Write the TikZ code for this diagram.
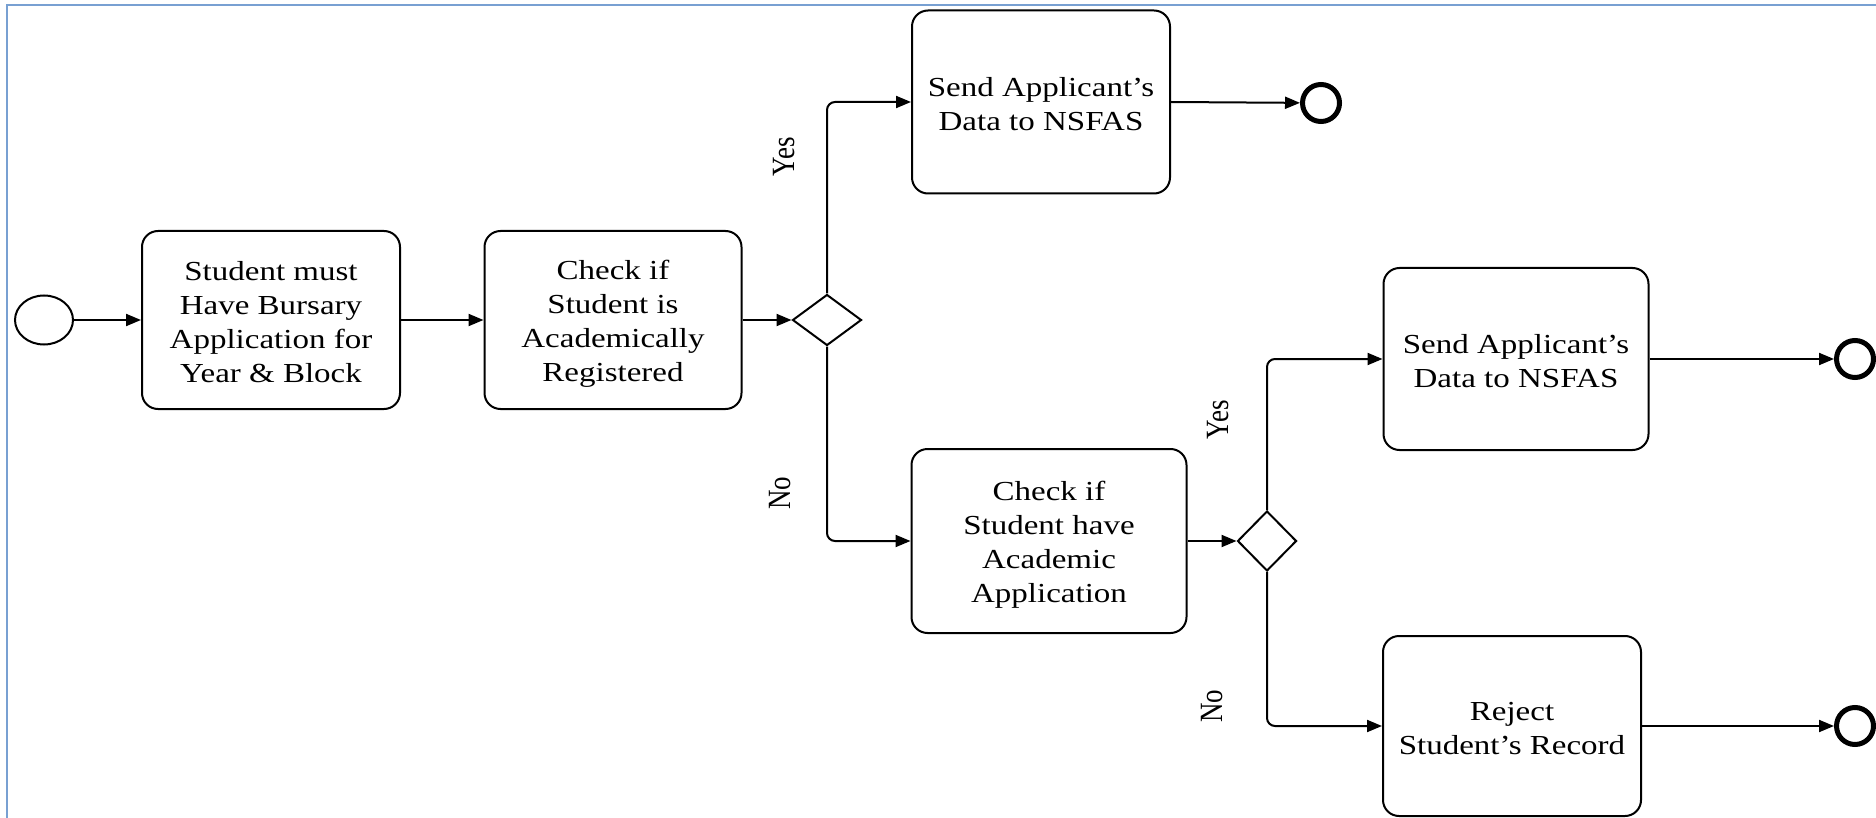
\documentclass[tikz,border=0pt]{standalone}
\usepackage{graphicx}
\usepackage{fontspec}
\setmainfont{Liberation Serif}[FakeStretch=1.2]
\newfontfamily\lblfont{Liberation Serif}
\usetikzlibrary{arrows.meta,shapes.geometric}
\definecolor{framecol}{RGB}{120,160,210}
\newcommand{\ts}{\rule[-3.5pt]{0pt}{30.5pt}}
\begin{document}
\begin{tikzpicture}[x=1pt,y=-1pt,
  task/.style={draw, line width=2pt, rounded corners=16pt, align=center,
    font=\fontsize{27.5}{34}\selectfont, inner sep=0pt},
  gate/.style={draw, diamond, line width=2pt, inner sep=0pt},
  endev/.style={draw, circle, line width=5pt, minimum size=37pt, inner sep=0pt},
  flow/.style={line width=2pt, -{Triangle[length=15pt,width=12pt]}, rounded corners=8pt},
  lbl/.style={rotate=90, font=\lblfont\fontsize{27}{30}\selectfont, inner sep=0pt}]
\useasboundingbox (0,0) rectangle (1876,818);
\fill[white] (0,0) rectangle (1876,818);
\draw[framecol, line width=2pt] (7,818) -- (7,5) -- (1876,5);

\node[draw, ellipse, line width=2pt, minimum width=58pt, minimum height=49pt, inner sep=0pt] (start) at (44,320) {};
\node[task, minimum width=258pt, minimum height=178pt] (b1) at (271,320)
  {\ts Student must\\\ts Have Bursary\\\ts Application for\\\ts Year \& Block};
\node[task, minimum width=257pt, minimum height=178pt] (b2) at (613,320)
  {\ts Check if\\\ts Student is\\\ts Academically\\\ts Registered};
\node[gate, minimum width=69pt, minimum height=51pt] (d1) at (827,320) {};
\node[task, minimum width=258pt, minimum height=183pt] (b3) at (1041,102)
  {\ts Send Applicant’s\\\ts Data to NSFAS};
\node[endev] (e1) at (1321,103) {};
\node[task, minimum width=275pt, minimum height=184pt] (b4) at (1049,541)
  {\ts Check if\\\ts Student have\\\ts Academic\\\ts Application};
\node[gate, minimum width=59pt, minimum height=60pt] (d2) at (1267,541) {};
\node[task, minimum width=265pt, minimum height=182pt] (b5) at (1516,359)
  {\ts Send Applicant’s\\\ts Data to NSFAS};
\node[endev] (e2) at (1855,359) {};
\node[task, minimum width=258pt, minimum height=180pt] (b6) at (1512,726)
  {\ts Reject\\\ts Student’s Record};
\node[endev] (e3) at (1855,726) {};

\node[lbl] (yes1) at (784,157) {\scalebox{1}[1.2]{Yes}};
\node[lbl] (no1) at (780,493) {\scalebox{1}[1.2]{No}};
\node[lbl] (yes2) at (1218,420) {\scalebox{1}[1.2]{Yes}};
\node[lbl] (no2) at (1212,706) {\scalebox{1}[1.2]{No}};

\draw[flow] (start) -- (b1);
\draw[flow] (b1) -- (b2);
\draw[flow] (b2.east) -- (d1.west);
\draw[flow] (d1.north) |- (b3.west);
\draw[flow] (d1.south) |- (b4.west);
\draw[flow] (b3.east) -- (e1);
\draw[flow] (b4.east) -- (d2.west);
\draw[flow] (d2.north) |- (b5.west);
\draw[flow] (d2.south) |- (b6.west);
\draw[flow] (b5.east) -- (e2);
\draw[flow] (b6.east) -- (e3);
\end{tikzpicture}
\end{document}
